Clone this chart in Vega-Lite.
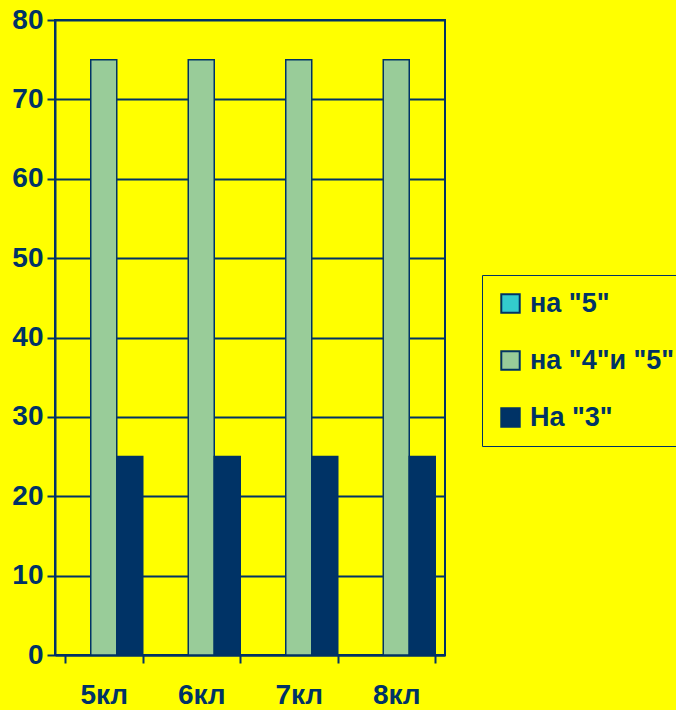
{
  "$schema": "https://vega.github.io/schema/vega-lite/v6.json",
  "autosize": "none",
  "width": 390,
  "height": 635,
  "padding": {"left": 55, "top": 20, "right": 231, "bottom": 55},
  "background": "#FFFF00",
  "config": {
    "view": {"stroke": "#003366", "strokeWidth": 2, "fill": "#FFFF00"},
    "font": "Liberation Sans",
    "legend": {"strokeColor": "#003366", "fillColor": "#FFFF00"}
  },
  "data": {
    "values": [
      {"class": "5кл", "series": "на \"5\"", "value": 0},
      {"class": "5кл", "series": "на \"4\"и \"5\"", "value": 75},
      {"class": "5кл", "series": "На \"3\"", "value": 25},
      {"class": "6кл", "series": "на \"5\"", "value": 0},
      {"class": "6кл", "series": "на \"4\"и \"5\"", "value": 75},
      {"class": "6кл", "series": "На \"3\"", "value": 25},
      {"class": "7кл", "series": "на \"5\"", "value": 0},
      {"class": "7кл", "series": "на \"4\"и \"5\"", "value": 75},
      {"class": "7кл", "series": "На \"3\"", "value": 25},
      {"class": "8кл", "series": "на \"5\"", "value": 0},
      {"class": "8кл", "series": "на \"4\"и \"5\"", "value": 75},
      {"class": "8кл", "series": "На \"3\"", "value": 25}
    ]
  },
  "mark": {"type": "bar", "stroke": "#003366", "strokeWidth": 1.5},
  "encoding": {
    "x": {
      "field": "class",
      "type": "nominal",
      "sort": null,
      "scale": {"paddingInner": 0.2, "paddingOuter": 0.1},
      "axis": {
        "title": null,
        "labelAngle": 0,
        "labelFont": "Liberation Sans",
        "labelFontWeight": "bold",
        "labelFontSize": 28,
        "labelColor": "#003366",
        "labelPadding": 18,
        "tickBand": "extent",
        "tickSize": 8,
        "tickColor": "#003366",
        "tickWidth": 2,
        "domainColor": "#003366",
        "domainWidth": 2,
        "grid": false
      }
    },
    "xOffset": {
      "field": "series",
      "type": "nominal",
      "sort": ["на \"5\"", "на \"4\"и \"5\"", "На \"3\""],
      "scale": {"paddingInner": 0, "paddingOuter": 0}
    },
    "y": {
      "field": "value",
      "type": "quantitative",
      "scale": {"domain": [0, 80]},
      "axis": {
        "title": null,
        "values": [0, 10, 20, 30, 40, 50, 60, 70, 80],
        "labelFont": "Liberation Sans",
        "labelFontWeight": "bold",
        "labelFontSize": 28,
        "labelColor": "#003366",
        "labelPadding": 4,
        "tickSize": 8,
        "tickColor": "#003366",
        "tickWidth": 2,
        "domainColor": "#003366",
        "domainWidth": 2,
        "grid": true,
        "gridColor": "#003366",
        "gridWidth": 2,
        "gridOpacity": 1
      }
    },
    "color": {
      "field": "series",
      "type": "nominal",
      "sort": ["на \"5\"", "на \"4\"и \"5\"", "На \"3\""],
      "scale": {
        "domain": ["на \"5\"", "на \"4\"и \"5\"", "На \"3\""],
        "range": ["#33CCCC", "#99CC99", "#003366"]
      },
      "legend": {
        "title": null,
        "orient": "none",
        "legendX": 427,
        "legendY": 255,
        "padding": 15,
        "rowPadding": 29,
        "symbolType": "square",
        "symbolSize": 340,
        "symbolStrokeColor": "#003366",
        "symbolStrokeWidth": 2,
        "symbolOpacity": 1,
        "labelFont": "Liberation Sans",
        "labelFontWeight": "bold",
        "labelFontSize": 27,
        "labelColor": "#003366",
        "labelOffset": 6,
        "labelLimit": 300
      }
    }
  }
}
